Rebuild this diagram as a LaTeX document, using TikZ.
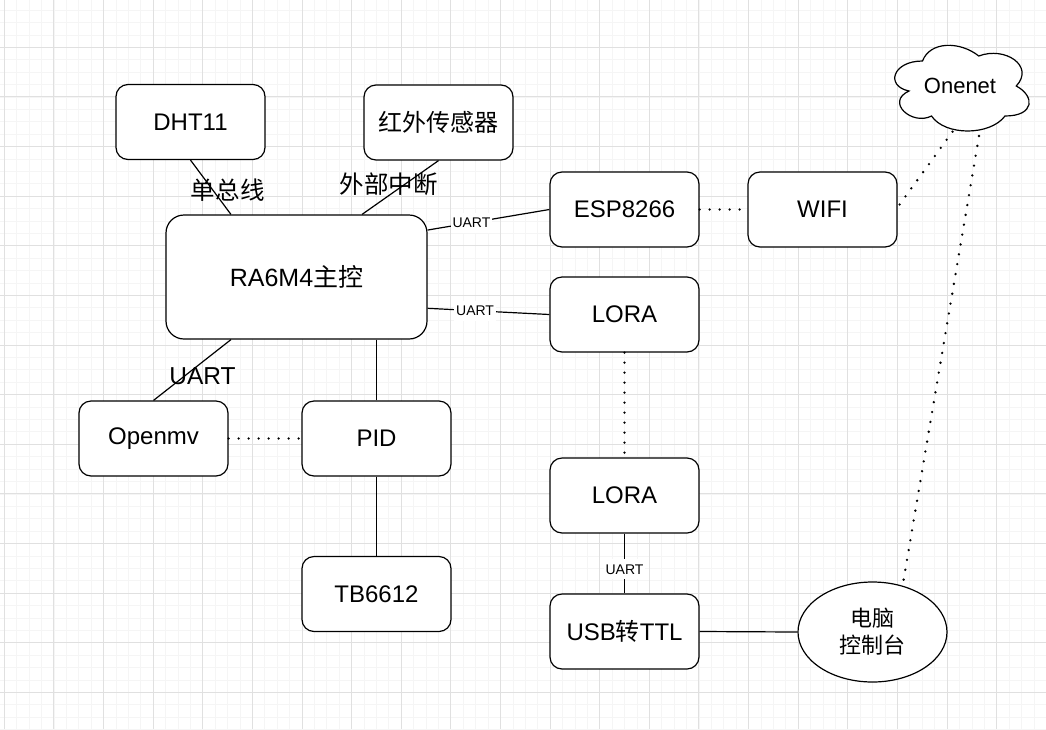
\documentclass[tikz,border=0pt]{standalone}
\usepackage{fontspec}
\setmainfont{Liberation Sans}
\newfontfamily\cjk{Noto Sans CJK SC}
\usetikzlibrary{calc}
\usetikzlibrary{shapes.geometric}
\newcommand{\cloudBox}[4]{ \draw[line width=1.2pt, fill=white] ( #1 + 0.25*#3 , #2 + 0.25*#4 ) .. controls ( #1 + 0.05*#3 , #2 + 0.25*#4 ) and ( #1 , #2 + 0.5*#4 ) .. ( #1 + 0.16*#3 , #2 + 0.55*#4 ) .. controls ( #1 , #2 + 0.66*#4 ) and ( #1 + 0.18*#3 , #2 + 0.9*#4 ) .. ( #1 + 0.31*#3 , #2 + 0.8*#4 ) .. controls ( #1 + 0.4*#3 , #2 + #4 ) and ( #1 + 0.7*#3 , #2 + #4 ) .. ( #1 + 0.8*#3 , #2 + 0.8*#4 ) .. controls ( #1 + #3 , #2 + 0.8*#4 ) and ( #1 + #3 , #2 + 0.6*#4 ) .. ( #1 + 0.875*#3 , #2 + 0.5*#4 ) .. controls ( #1 + #3 , #2 + 0.3*#4 ) and ( #1 + 0.8*#3 , #2 + 0.1*#4 ) .. ( #1 + 0.625*#3 , #2 + 0.2*#4 ) .. controls ( #1 + 0.5*#3 , #2 + 0.05*#4 ) and ( #1 + 0.3*#3 , #2 + 0.05*#4 ) .. cycle;}
\tikzset{
  blk/.style={draw, fill=white, rounded corners=12pt, line width=1.2pt, minimum width=149pt, minimum height=75pt, inner sep=0pt, font=\fontsize{24}{28}\selectfont},
  lnk/.style={line width=1.2pt},
  dotlink/.style={line width=2.6pt, line cap=round, dash pattern=on 0pt off 10pt},
  biglbl/.style={font=\fontsize{24.5}{28}\selectfont, inner sep=0pt},
  uart/.style={font=\fontsize{14}{16}\selectfont, fill=white, inner xsep=2pt, inner ysep=0pt, minimum height=20pt},
  gminor/.style={color=black!4, line width=0.8pt},
  gmajor/.style={color=black!12, line width=1pt}
}
\begin{document}
\begin{tikzpicture}[x=1pt, y=-1pt]
\useasboundingbox[fill=white] (0,0) rectangle (1046,729);
% grid
\foreach \i in {0,...,84} \draw[gminor] ({4.3+12.405*\i},0) -- ({4.3+12.405*\i},729);
\foreach \j in {0,...,58} \draw[gminor] (0,{10.1+12.405*\j}) -- (1046,{10.1+12.405*\j});
\foreach \i in {0,...,21} \draw[gmajor] ({4.3+49.62*\i},0) -- ({4.3+49.62*\i},729);
\foreach \j in {0,...,14} \draw[gmajor] (0,{-2.3+49.62*\j}) -- (1046,{-2.3+49.62*\j});

% left side
\node[blk] (dht) at (190.5,122) {DHT11};
\node[blk] (ir) at (438.5,122.5) {\cjk 红外传感器};
\node[blk, minimum width=261pt, minimum height=124pt, rounded corners=18pt, font=\fontsize{25}{29}\selectfont] (mcu) at (296.5,277) {RA6M4{\cjk 主控}};
\node[blk] (omv) at (153.5,438.5) {Openmv};
\node[blk] (pid) at (376.5,438.5) {PID};
\node[blk] (tb) at (376.5,594) {TB6612};
% right side
\node[blk] (esp) at (624.5,209.5) {ESP8266};
\node[blk] (wifi) at (822.5,209.5) {WIFI};
\node[blk] (loraA) at (624.5,314.5) {LORA};
\node[blk] (loraB) at (624.5,495.5) {LORA};
\node[blk] (usb) at (624.5,631.5) {USB{\cjk 转}TTL};
\node[ellipse, draw, fill=white, line width=1.2pt, minimum width=149pt, minimum height=100pt, inner sep=0pt, align=center, font=\fontsize{22}{27}\selectfont\cjk] (pc) at (872.5,632) {电脑\\控制台};
\cloudBox{885}{36}{150}{100}
\node[font=\fontsize{22}{26}\selectfont] (onenet) at (960,86) {Onenet};
\coordinate (oneA) at (953,131);
\coordinate (oneB) at (979,136);

% links
\draw[lnk] (dht.south) -- node[biglbl, pos=0.55, xshift=15pt] (busLbl) {\cjk 单总线} ($(mcu.north west)!0.25!(mcu.north east)$);
\draw[lnk] (ir.south) -- node[biglbl, pos=0.44, xshift=-16pt] (intLbl) {\cjk 外部中断} ($(mcu.north west)!0.75!(mcu.north east)$);
\draw[lnk] ($(mcu.east)!0.75!(mcu.north east)$) -- node[uart, pos=0.36] (uartA) {UART} (esp.west);
\draw[lnk] ($(mcu.east)!0.5!(mcu.south east)$) -- node[uart, pos=0.39] (uartB) {UART} (loraA.west);
\draw[lnk] ($(mcu.south west)!0.25!(mcu.south east)$) -- node[biglbl, pos=0.6, xshift=18pt] (uartC) {UART} (omv.north);
\draw[lnk] (pid.north) -- (pid.north |- mcu.south);
\draw[lnk] (pid.south) -- (tb.north);
\draw[lnk] (loraB.south) -- node[uart, pos=0.6] (uartD) {UART} (usb.north);
\draw[lnk] (usb.east) -- (pc.west);
% wireless
\draw[dotlink] (omv.east) -- (pid.west);
\draw[dotlink] (esp.east) -- (wifi.west);
\draw[dotlink] ($(wifi.east)+(2,-5)$) -- (oneA);
\draw[dotlink] (oneB) -- (pc.57);
\draw[dotlink] (loraA.south) -- (loraB.north);
\end{tikzpicture}
\end{document}
